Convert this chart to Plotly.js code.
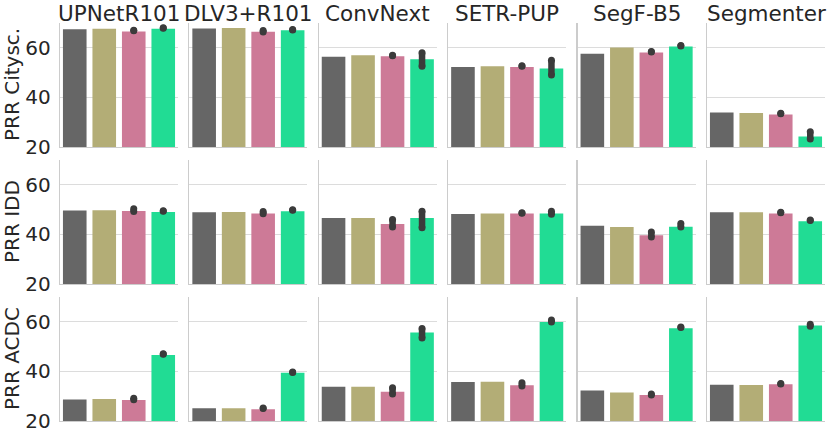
<!DOCTYPE html>
<html>
<head>
<meta charset="utf-8">
<script src="https://cdn.plot.ly/plotly-3.0.1.min.js"></script>
<style>
  body { margin: 0; background: #fff; }
  #chart { width: 830px; height: 437px; }
</style>
</head>
<body>
<div id="chart"></div>
<script>
// Models (columns) and metrics (rows)
const models = ['UPNetR101', 'DLV3+R101', 'ConvNext', 'SETR-PUP', 'SegF-B5', 'Segmenter'];
const metrics = ['PRR Citysc.', 'PRR IDD', 'PRR ACDC'];
const methods = ['m0', 'm1', 'm2', 'm3'];
const barColors = ['#666666', '#b3ad76', '#cd7a97', '#21dc94'];

// Bar heights per model: [gray, olive, pink, green]
const citysc = [
  [67.5, 67.7, 66.6, 67.7],
  [67.8, 68.0, 66.5, 67.1],
  [56.4, 57.0, 56.6, 55.4],
  [52.3, 52.6, 52.3, 51.7],
  [57.6, 60.1, 58.1, 60.5],
  [33.9, 33.7, 33.1, 24.2],
];
const idd = [
  [49.6, 49.7, 49.4, 49.0],
  [48.9, 49.0, 48.4, 49.3],
  [46.6, 46.6, 44.2, 46.6],
  [48.2, 48.4, 48.4, 48.4],
  [43.5, 43.0, 39.7, 43.1],
  [48.9, 48.9, 48.4, 45.3],
];
const acdc = [
  [28.7, 28.9, 28.5, 46.6],
  [25.1, 25.1, 24.7, 39.5],
  [33.8, 33.8, 31.8, 55.7],
  [35.7, 35.8, 34.4, 59.9],
  [32.3, 31.5, 30.5, 57.4],
  [34.6, 34.5, 34.8, 58.5],
];

// Confidence intervals per model: [pinkLo, pinkHi, greenLo, greenHi]
const cityscCI = [
  [66.9, 67.1, 67.9, 68.1],
  [66.4, 67.0, 67.2, 67.4],
  [56.8, 57.0, 52.6, 58.0],
  [52.6, 52.8, 49.0, 55.0],
  [58.3, 58.5, 60.7, 60.9],
  [33.4, 33.6, 23.2, 26.1],
];
const iddCI = [
  [49.2, 50.3, 49.3, 49.5],
  [48.3, 49.2, 49.7, 49.9],
  [43.0, 46.0, 42.7, 49.3],
  [48.5, 48.7, 48.1, 49.3],
  [39.0, 41.0, 43.0, 44.4],
  [48.7, 48.9, 45.6, 45.8],
];
const acdcCI = [
  [28.6, 29.2, 46.9, 47.1],
  [25.0, 25.2, 39.6, 39.8],
  [30.9, 33.4, 53.5, 57.3],
  [34.1, 35.4, 59.9, 60.7],
  [30.5, 30.9, 57.7, 57.9],
  [34.9, 35.1, 58.2, 59.0],
];

const yTicks = [20, 40, 60];

const rowBars = [citysc, idd, acdc];
const rowCI = [cityscCI, iddCI, acdcCI];

// pixel geometry of the grid
const W = 830, H = 437;
const colLeft = [60, 189.4, 318.8, 448.2, 577.6, 707];
const colWidth = 118;
const rowTop = [23, 160, 297];
const rowHeight = 124;

const textColor = '#262626';
const font = 'DejaVu Sans, sans-serif';

var traces = [];
var layout = {
  width: W,
  height: H,
  margin: { t: 0, b: 0, l: 0, r: 0 },
  paper_bgcolor: '#ffffff',
  plot_bgcolor: '#ffffff',
  showlegend: false,
  bargap: 0.2,
  font: { family: font, color: textColor },
  annotations: [],
};

for (let r = 0; r < metrics.length; r++) {
  for (let c = 0; c < models.length; c++) {
    const n = r * models.length + c + 1;
    const xa = 'x' + (n === 1 ? '' : n);
    const ya = 'y' + (n === 1 ? '' : n);

    traces.push({
      type: 'bar',
      x: methods,
      y: rowBars[r][c],
      xaxis: xa,
      yaxis: ya,
      marker: { color: barColors, line: { width: 0 } },
      hoverinfo: 'y',
    });

    // error bars drawn as thick rounded strokes
    const ci = rowCI[r][c];
    traces.push({
      type: 'scatter',
      mode: 'lines+markers',
      x: [methods[2], methods[2], null, methods[3], methods[3]],
      y: [ci[0], ci[1], null, ci[2], ci[3]],
      xaxis: xa,
      yaxis: ya,
      line: { color: '#3b3b3b', width: 6.5 },
      marker: { color: '#3b3b3b', size: 7 },
      hoverinfo: 'skip',
    });

    const xKey = 'xaxis' + (n === 1 ? '' : n);
    const yKey = 'yaxis' + (n === 1 ? '' : n);
    layout[xKey] = {
      domain: [colLeft[c] / W, (colLeft[c] + colWidth) / W],
      anchor: ya,
      range: [-0.5, 3.5],
      showticklabels: false,
      showgrid: false,
      zeroline: false,
      showline: true,
      linecolor: '#cccccc',
      linewidth: 1.3,
      ticks: '',
      fixedrange: true,
    };
    layout[yKey] = {
      domain: [1 - (rowTop[r] + rowHeight) / H, 1 - rowTop[r] / H],
      anchor: xa,
      range: [20, 70],
      tickvals: yTicks,
      showticklabels: c === 0,
      tickfont: { size: 20, color: textColor, family: font },
      ticks: '',
      ticklabelstandoff: 4,
      showgrid: true,
      gridcolor: '#dcdcdc',
      gridwidth: 1.3,
      zeroline: false,
      showline: true,
      linecolor: '#cccccc',
      linewidth: 1.3,
      fixedrange: true,
    };

    // column titles on the top row
    if (r === 0) {
      layout.annotations.push({
        text: models[c],
        xref: 'paper',
        yref: 'paper',
        x: (colLeft[c] + colWidth / 2) / W,
        y: 1 - 27 / H,
        xanchor: 'center',
        yanchor: 'bottom',
        borderpad: 0,
        showarrow: false,
        font: { size: 21.5, color: textColor, family: font },
      });
    }
  }

  // row labels
  layout.annotations.push({
    text: metrics[r],
    xref: 'paper',
    yref: 'paper',
    x: 12 / W,
    y: 1 - (rowTop[r] + rowHeight / 2) / H,
    xanchor: 'center',
    yanchor: 'middle',
    textangle: -90,
    showarrow: false,
    font: { size: 20, color: textColor, family: font },
  });
}

var config = { responsive: false, displayModeBar: false, staticPlot: true };

Plotly.newPlot('chart', traces, layout, config);
</script>
</body>
</html>
